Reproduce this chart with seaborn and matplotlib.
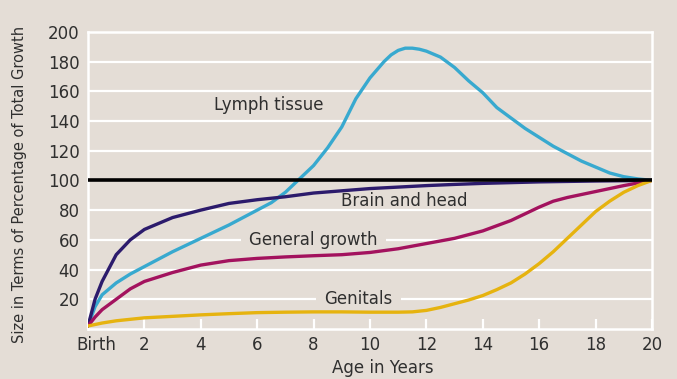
import matplotlib
matplotlib.use("Agg")
import matplotlib.pyplot as plt
import matplotlib.transforms as mtransforms
import numpy as np
import pandas as pd
import seaborn as sns

# values (age in years, % of total growth)
lymph_age = [0, 0.25, 0.5, 1, 1.5, 2, 3, 4, 5, 6, 6.5, 7, 7.5, 8, 8.5, 9, 9.5, 10,
             10.5, 10.75, 11, 11.25, 11.5, 11.75, 12, 12.5, 13, 13.5, 14, 14.5, 15,
             15.5, 16, 16.5, 17, 17.5, 18, 18.5, 19, 19.5, 20]
lymph_val = [2, 15, 23, 31, 37, 42, 52, 61, 70, 80, 85, 92, 101, 110, 122, 136, 155, 169,
             180, 184.5, 187.5, 189, 189, 188.3, 187, 183, 176, 167, 159, 149, 142,
             135, 129, 123, 118, 113, 109, 105, 102.5, 101, 100]

brain_age = [0, 0.25, 0.5, 0.75, 1, 1.5, 2, 3, 4, 5, 6, 7, 8, 9, 10, 11, 12, 13, 14,
             15, 16, 17, 18, 19, 20]
brain_val = [2, 20, 32, 41, 50, 60, 67, 75, 80, 84.5, 87, 89, 91.5, 93, 94.5, 95.5,
             96.5, 97.3, 98, 98.5, 99, 99.3, 99.6, 99.8, 100]

general_age = [0, 0.25, 0.5, 1, 1.5, 2, 3, 4, 5, 6, 7, 8, 9, 10, 11, 12, 13, 14, 15,
               15.5, 16, 16.5, 17, 18, 19, 20]
general_val = [2, 8, 13, 20, 27, 32, 38, 43, 46, 47.5, 48.5, 49.3, 50, 51.5, 54, 57.5,
               61, 66, 73, 77.5, 82, 86, 88.5, 92.5, 96.5, 100]

genital_age = [0, 0.5, 1, 2, 3, 4, 5, 6, 7, 8, 9, 10, 11, 11.5, 12, 12.5, 13, 13.5, 14,
               14.5, 15, 15.5, 16, 16.5, 17, 17.5, 18, 18.5, 19, 19.5, 20]
genital_val = [2, 4, 5.5, 7.5, 8.5, 9.5, 10.3, 11, 11.3, 11.5, 11.5, 11.3, 11.3, 11.5,
               12.5, 14.5, 17, 19.5, 22.5, 26.5, 31, 37, 44, 52, 61, 70, 79, 86, 92,
               96.5, 100]

x_ticks = [0, 2, 4, 6, 8, 10, 12, 14, 16, 18, 20]
x_labels = ["Birth", "2", "4", "6", "8", "10", "12", "14", "16", "18", "20"]
y_ticks = [20, 40, 60, 80, 100, 120, 140, 160, 180, 200]

bg = "#e4ddd6"
txt = "#2f2f2f"

sns.set_theme(style="white", rc={"axes.facecolor": bg, "figure.facecolor": bg})
plt.rcParams["font.family"] = ["DejaVu Sans"]

frames = [
    pd.DataFrame({"age": lymph_age, "size": lymph_val, "part": "Lymph tissue"}),
    pd.DataFrame({"age": brain_age, "size": brain_val, "part": "Brain and head"}),
    pd.DataFrame({"age": general_age, "size": general_val, "part": "General growth"}),
    pd.DataFrame({"age": genital_age, "size": genital_val, "part": "Genitals"}),
]
df = pd.concat(frames, ignore_index=True)
colors = {"Lymph tissue": "#38a9cf", "Brain and head": "#2c1b6c",
          "General growth": "#a3125e", "Genitals": "#e6b30f"}

fig = plt.figure(figsize=(6.77, 3.79), dpi=100)
ax = fig.add_axes([0.130, 0.132, 0.833, 0.784])

# white grid
for y in y_ticks[:-1]:
    if y != 100:
        ax.axhline(y, color="white", lw=1.6, zorder=1)

sns.lineplot(data=df, x="age", y="size", hue="part", palette=colors, lw=2.4,
             legend=False, ax=ax, zorder=3, sort=False, solid_joinstyle="round")
ax.plot([0, 20], [100, 100], color="black", lw=2.6, zorder=4)

ax.set_xlim(0, 20)
ax.set_ylim(0, 200)
for s in ax.spines.values():
    s.set_color("white")
    s.set_linewidth(1.8)

ax.set_xticks(x_ticks)
ax.set_xticklabels(x_labels)
ax.set_yticks(y_ticks)
ax.tick_params(axis="x", direction="in", length=7, width=1.6, color="white",
               labelsize=12, labelcolor=txt, pad=5, bottom=True)
ax.tick_params(axis="y", length=0, labelsize=12, labelcolor=txt, pad=6)
birth = ax.get_xticklabels()[0]
birth.set_transform(birth.get_transform() +
                    mtransforms.ScaledTranslation(8 / 100, 0, fig.dpi_scale_trans))

ax.set_xlabel("Age in Years", fontsize=12, color=txt)
ax.xaxis.set_label_coords(0.523, -0.1)
ax.set_ylabel("Size in Terms of Percentage of Total Growth", fontsize=10.5,
              color=txt)
ax.yaxis.set_label_coords(-0.108, 0.485)

box = dict(facecolor=bg, edgecolor="none", pad=6)
ax.text(6.4, 151, "Lymph tissue", fontsize=12, color=txt, ha="center", va="center")
ax.text(11.2, 86, "Brain and head", fontsize=12, color=txt, ha="center", va="center")
ax.text(8.0, 60, "General growth", fontsize=12, color=txt, ha="center",
        va="center", bbox=box, zorder=2)
ax.text(9.6, 20, "Genitals", fontsize=12, color=txt, ha="center", va="center",
        bbox=box, zorder=2)

fig.savefig("out.png", dpi=100, facecolor=bg)
